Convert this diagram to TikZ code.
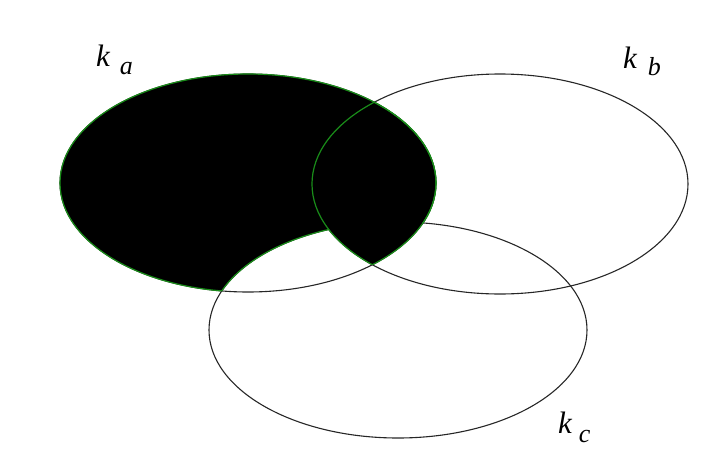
\documentclass[tikz,border=0pt]{standalone}
\usepackage{fontspec}
\setmainfont{Liberation Serif}
\definecolor{rimgreen}{rgb}{0.10,0.55,0.10}
\newcommand{\ellA}{(248,183) ellipse [x radius=188pt, y radius=109pt]}
\newcommand{\ellB}{(500,184) ellipse [x radius=188pt, y radius=110pt]}
\newcommand{\ellC}{(398,330) ellipse [x radius=189pt, y radius=108pt]}
\newcommand{\wholepage}{(0,0) rectangle (713,453)}

\begin{document}
\begin{tikzpicture}[
  x=1pt, y=-1pt,
  outline/.style={draw=black!85, line width=1.1pt},
  rim/.style={draw=rimgreen, line width=1.2pt},
  setname/.style={inner sep=0pt, anchor=base west, font=\fontsize{31}{31}\selectfont\itshape},
]
\useasboundingbox \wholepage;

% ---- the three sets ----
\draw[outline] \ellA;
\draw[outline] \ellB;
\draw[outline] \ellC;

% ---- shaded part: k_a outside k_c, together with k_a cut k_b ----
\begin{scope}[even odd rule]
  \clip \ellA;
  \fill[black] \ellB;
  \clip \wholepage \ellC;
  \fill[black] \ellA;
\end{scope}

% ---- green rims round the shaded part ----
\begin{scope}[even odd rule]
  \clip \wholepage \ellC;
  \draw[rim] \ellA;
\end{scope}
\begin{scope}
  \clip \ellB;
  \draw[rim] \ellA;
\end{scope}
\begin{scope}
  \clip \ellA;
  \draw[rim] \ellB;
\end{scope}
\begin{scope}[even odd rule]
  \clip \ellA;
  \clip \wholepage \ellB;
  \draw[rim] \ellC;
\end{scope}

% ---- set names ----
\node[setname] (nameA) at (96,66)  {k\hspace{10pt}\raisebox{-8pt}{\fontsize{26}{26}\selectfont a}};
\node[setname] (nameB) at (623,68) {k\hspace{11pt}\raisebox{-7pt}{\fontsize{26}{26}\selectfont b}};
\node[setname] (nameC) at (558,433) {k\hspace{7pt}\raisebox{-9pt}{\fontsize{26}{26}\selectfont c}};

\end{tikzpicture}
\end{document}
